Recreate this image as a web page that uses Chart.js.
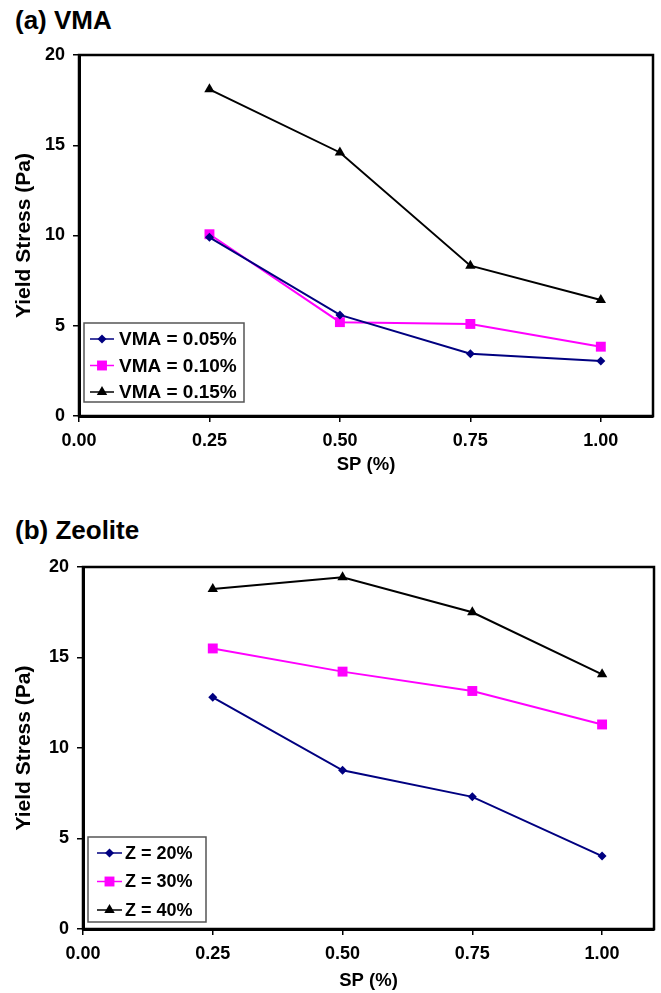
<!DOCTYPE html>
<html>
<head>
<meta charset="utf-8">
<script src="https://cdn.jsdelivr.net/npm/chart.js@4.4.0/dist/chart.umd.min.js"></script>
<style>
  body { margin: 0; background: #fff; width: 661px; height: 993px; position: relative; overflow: hidden; }
  .panel { position: absolute; left: 0; width: 661px; }
  .ptitle { position: absolute; left: 15px; font: bold 26px "Liberation Sans", Arial, sans-serif; color: #000; }
</style>
</head>
<body>
<div class="ptitle" style="top:5px">(a) VMA</div>
<div class="ptitle" style="top:515px">(b) Zeolite</div>
<div class="panel" style="top:0px;height:486px"><canvas id="chartA"></canvas></div>
<div class="panel" style="top:496px;height:497px"><canvas id="chartB"></canvas></div>
<script>
// data
const spLevels = [0.25, 0.50, 0.75, 1.00];
const xTickValues = [0, 0.25, 0.5, 0.75, 1.0];
const yTickValues = [0, 5, 10, 15, 20];

const vmaLabels = ['VMA = 0.05%', 'VMA = 0.10%', 'VMA = 0.15%'];
const vma005 = [9.9, 5.6, 3.45, 3.05];
const vma010 = [10.07, 5.2, 5.1, 3.84];
const vma015 = [18.1, 14.6, 8.33, 6.43];

const zLabels = ['Z = 20%', 'Z = 30%', 'Z = 40%'];
const z20 = [12.8, 8.77, 7.3, 4.03];
const z30 = [15.5, 14.22, 13.15, 11.3];
const z40 = [18.78, 19.43, 17.5, 14.07];

const seriesColors = ['#000080', '#ff00ff', '#000000'];
const seriesStyles = ['rectRot', 'rect', 'triangle'];
const seriesRadius = [4.5, 7, 6];

const FONT = '"Liberation Sans", Arial, sans-serif';

function drawMarker(ctx, style, x, y, r, color) {
  ctx.fillStyle = color;
  ctx.beginPath();
  if (style === 'rectRot') {
    ctx.moveTo(x - r, y); ctx.lineTo(x, y - r); ctx.lineTo(x + r, y); ctx.lineTo(x, y + r);
  } else if (style === 'rect') {
    const s = r * Math.SQRT1_2;
    ctx.rect(x - s, y - s, 2 * s, 2 * s);
  } else {
    ctx.moveTo(x, y - r); ctx.lineTo(x + r * 0.866, y + r * 0.5); ctx.lineTo(x - r * 0.866, y + r * 0.5);
  }
  ctx.closePath();
  ctx.fill();
}

// frame around the plot + boxed legend inside the plot
const frameLegend = {
  id: 'frameLegend',
  afterDatasetsDraw(chart, args, opts) {
    const {ctx, chartArea} = chart;
    ctx.save();
    ctx.strokeStyle = '#000';
    ctx.lineWidth = 2.5;
    ctx.strokeRect(chartArea.left, chartArea.top, chartArea.width, chartArea.height);

    const bx = chartArea.left + opts.dx;
    const by = chartArea.bottom - opts.dy - opts.h;
    ctx.fillStyle = '#fff';
    ctx.fillRect(bx, by, opts.w, opts.h);
    ctx.strokeStyle = '#555';
    ctx.lineWidth = 1.5;
    ctx.strokeRect(bx, by, opts.w, opts.h);

    chart.data.datasets.forEach((ds, i) => {
      const y = by + opts.first + i * opts.rowH;
      ctx.strokeStyle = ds.borderColor;
      ctx.lineWidth = 1.5;
      ctx.beginPath();
      ctx.moveTo(bx + opts.l0, y);
      ctx.lineTo(bx + opts.l1, y);
      ctx.stroke();
      drawMarker(ctx, ds.pointStyle, bx + (opts.l0 + opts.l1) / 2, y, ds.pointRadius, ds.borderColor);
      ctx.fillStyle = '#000';
      ctx.font = 'bold ' + opts.fontSize + 'px ' + FONT;
      ctx.textBaseline = 'middle';
      ctx.textAlign = 'left';
      ctx.fillText(ds.label, bx + opts.tx, y + 1);
    });
    ctx.restore();
  }
};

function makeChart(id, labels, series, cfg) {
  const datasets = series.map((vals, i) => ({
    label: labels[i],
    data: spLevels.map((x, j) => ({x: x, y: vals[j]})),
    showLine: true,
    borderColor: seriesColors[i],
    backgroundColor: seriesColors[i],
    borderWidth: 2,
    pointStyle: seriesStyles[i],
    pointRadius: seriesRadius[i],
    pointBorderWidth: 0,
    pointBackgroundColor: seriesColors[i]
  }));

  return new Chart(document.getElementById(id), {
    type: 'scatter',
    data: {datasets: datasets},
    options: {
      responsive: true,
      maintainAspectRatio: false,
      animation: false,
      layout: {padding: {top: cfg.top, left: 0, right: cfg.right, bottom: 0}},
      plugins: {
        legend: {display: false},
        tooltip: {enabled: false},
        frameLegend: cfg.legend
      },
      scales: {
        x: {
          type: 'linear',
          min: 0,
          max: 1.1,
          afterBuildTicks: (s) => { s.ticks = xTickValues.map(v => ({value: v})); },
          afterFit: (s) => { s.height = cfg.xHeight; },
          border: {display: true, color: '#000', width: 3},
          grid: {drawOnChartArea: false, drawTicks: true, tickLength: 6, color: '#000', lineWidth: 1.5},
          ticks: {
            padding: 8,
            color: '#000',
            font: {family: FONT, size: 18, weight: 'bold'},
            maxRotation: 0,
            callback: (v) => Number(v).toFixed(2)
          },
          title: {display: true, text: 'SP (%)', color: '#000',
                  font: {family: FONT, size: 18.5, weight: 'bold'},
                  padding: {top: 0, bottom: cfg.xTitlePad}}
        },
        y: {
          min: 0,
          max: 20,
          afterBuildTicks: (s) => { s.ticks = yTickValues.map(v => ({value: v})); },
          afterFit: (s) => { s.width = cfg.yWidth; },
          border: {display: true, color: '#000', width: 3},
          grid: {drawOnChartArea: false, drawTicks: true, tickLength: 6, color: '#000', lineWidth: 1.5},
          ticks: {
            padding: 8,
            color: '#000',
            font: {family: FONT, size: 18, weight: 'bold'}
          },
          title: {display: true, text: 'Yield Stress (Pa)', color: '#000',
                  font: {family: FONT, size: 21, weight: 'bold'},
                  padding: {top: 12, bottom: 0}}
        }
      }
    },
    plugins: [frameLegend]
  });
}

makeChart('chartA', vmaLabels, [vma005, vma010, vma015], {
  top: 55, right: 8, yWidth: 79, xHeight: 70, xTitlePad: 10,
  legend: {dx: 5, dy: 14, w: 160, h: 79, first: 16, rowH: 26.5, l0: 6, l1: 30, tx: 35, fontSize: 19}
});

makeChart('chartB', zLabels, [z20, z30, z40], {
  top: 71, right: 3, yWidth: 83, xHeight: 64, xTitlePad: 1,
  legend: {dx: 5, dy: 7, w: 118, h: 85, first: 16, rowH: 28.5, l0: 9, l1: 34, tx: 37, fontSize: 18}
});
</script>
</body>
</html>
